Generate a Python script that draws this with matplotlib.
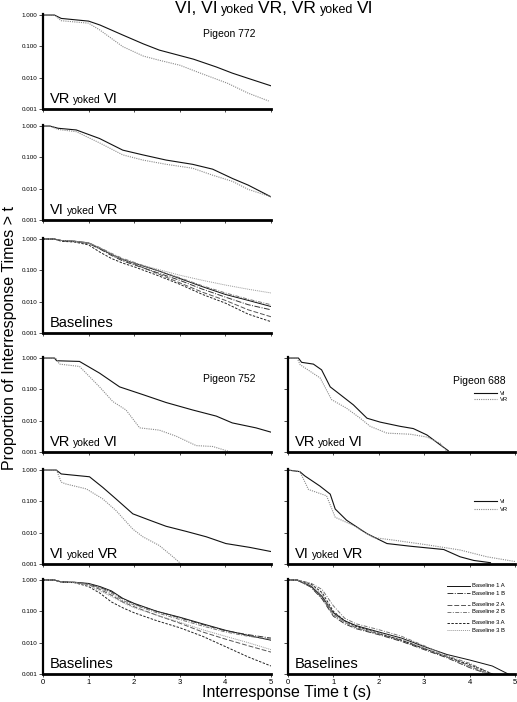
import numpy as np
import matplotlib
matplotlib.use("Agg")
import matplotlib.pyplot as plt
from matplotlib.transforms import offset_copy
from matplotlib.ticker import FixedLocator, FixedFormatter

plt.rcParams['font.family'] = ['Liberation Sans', 'DejaVu Sans']

# ---------------- data ----------------
# Pigeon 772, VR yoked VI
T772_VRVI_VI = [0, 0.25, 0.4, 1.0, 1.25, 1.75, 2.2, 2.55, 3.3, 3.8, 4.15, 4.5, 5.0]
P772_VRVI_VI = [1.0, 1.0, 0.78, 0.64, 0.48, 0.23, 0.12, 0.076, 0.039, 0.022, 0.014, 0.0095, 0.0055]
T772_VRVI_VR = [0, 0.25, 0.4, 1.0, 1.25, 1.75, 2.2, 2.55, 3.0, 3.45, 4.05, 4.5, 4.95]
P772_VRVI_VR = [1.0, 1.0, 0.66, 0.55, 0.33, 0.098, 0.049, 0.036, 0.025, 0.014, 0.0066, 0.0032, 0.0018]

# Pigeon 772, VI yoked VR
T772_VIVR_VI = [0, 0.15, 0.33, 0.73, 1.24, 1.75, 2.19, 2.7, 3.28, 3.72, 4.16, 4.5, 5.0]
P772_VIVR_VI = [1.0, 1.0, 0.85, 0.75, 0.4, 0.17, 0.12, 0.082, 0.06, 0.042, 0.021, 0.013, 0.0055]
T772_VIVR_VR = [0, 0.15, 0.33, 0.73, 1.24, 1.75, 2.19, 2.7, 3.28, 3.72, 4.16, 4.5, 5.0]
P772_VIVR_VR = [1.0, 1.0, 0.78, 0.66, 0.29, 0.12, 0.082, 0.06, 0.045, 0.027, 0.017, 0.0095, 0.0055]

# Baseline time grid (772 and 752)
T_BASE = [0, 0.25, 0.4, 0.7, 1.0, 1.25, 1.5, 1.75, 2.0, 2.5, 3.0, 3.5, 4.0, 4.5, 5.0]
B772_1A = [1, 1, 0.9, 0.85, 0.75, 0.5, 0.32, 0.22, 0.17, 0.1, 0.055, 0.03, 0.017, 0.011, 0.007]
B772_1B = [1, 1, 0.88, 0.83, 0.72, 0.48, 0.3, 0.2, 0.15, 0.085, 0.048, 0.025, 0.014, 0.008, 0.0055]
B772_2A = [1, 1, 0.9, 0.85, 0.75, 0.52, 0.33, 0.22, 0.16, 0.08, 0.04, 0.02, 0.011, 0.0055, 0.0033]
B772_2B = [1, 1, 0.9, 0.85, 0.76, 0.53, 0.35, 0.24, 0.18, 0.1, 0.058, 0.032, 0.019, 0.012, 0.008]
B772_3A = [1, 1, 0.85, 0.8, 0.65, 0.38, 0.24, 0.17, 0.13, 0.07, 0.036, 0.017, 0.009, 0.004, 0.0023]
B772_3B = [1, 1, 0.9, 0.85, 0.75, 0.52, 0.32, 0.22, 0.17, 0.11, 0.07, 0.048, 0.034, 0.025, 0.019]

# Pigeon 752, VR yoked VI
T752_VRVI_VI = [0, 0.25, 0.3, 0.8, 1.24, 1.68, 2.19, 2.7, 3.28, 3.8, 4.15, 4.67, 5.0]
P752_VRVI_VI = [1.0, 1.0, 0.82, 0.78, 0.33, 0.12, 0.068, 0.038, 0.022, 0.014, 0.0085, 0.0059, 0.0043]
T752_VRVI_VR = [0, 0.28, 0.36, 0.8, 1.24, 1.53, 1.82, 2.12, 2.55, 2.92, 3.36, 3.72, 4.12]
P752_VRVI_VR = [1.0, 1.0, 0.64, 0.54, 0.12, 0.041, 0.022, 0.0059, 0.005, 0.0032, 0.0016, 0.0015, 0.001]

# Pigeon 752, VI yoked VR
T752_VIVR_VI = [0, 0.29, 0.4, 1.02, 1.31, 1.6, 1.97, 2.34, 2.7, 3.14, 3.58, 4.01, 4.53, 5.0]
P752_VIVR_VI = [1.0, 1.0, 0.75, 0.61, 0.28, 0.12, 0.04, 0.025, 0.016, 0.011, 0.0074, 0.0045, 0.0034, 0.0025]
T752_VIVR_VR = [0, 0.3, 0.33, 0.4, 0.5, 0.95, 1.31, 1.6, 1.97, 2.19, 2.55, 2.85, 3.03]
P752_VIVR_VR = [1.0, 1.0, 0.75, 0.41, 0.36, 0.25, 0.12, 0.051, 0.013, 0.0074, 0.0039, 0.0017, 0.001]

B752_1A = [1, 1, 0.87, 0.85, 0.78, 0.62, 0.45, 0.26, 0.18, 0.1, 0.065, 0.04, 0.025, 0.017, 0.012]
B752_1B = [1, 1, 0.87, 0.84, 0.75, 0.58, 0.42, 0.25, 0.17, 0.1, 0.062, 0.038, 0.024, 0.018, 0.014]
B752_2A = [1, 1, 0.87, 0.84, 0.72, 0.5, 0.33, 0.2, 0.14, 0.075, 0.042, 0.022, 0.013, 0.008, 0.005]
B752_2B = [1, 1, 0.87, 0.84, 0.74, 0.55, 0.38, 0.22, 0.16, 0.09, 0.055, 0.034, 0.022, 0.016, 0.013]
B752_3A = [1, 1, 0.87, 0.82, 0.62, 0.38, 0.2, 0.13, 0.09, 0.05, 0.03, 0.016, 0.0075, 0.0035, 0.0018]
B752_3B = [1, 1, 0.87, 0.83, 0.68, 0.45, 0.3, 0.19, 0.13, 0.075, 0.045, 0.026, 0.016, 0.01, 0.006]

# Pigeon 688, VR yoked VI
T688_VRVI_VI = [0, 0.23, 0.3, 0.56, 0.74, 0.93, 1.15, 1.44, 1.74, 2.03, 2.47, 2.76, 3.06, 3.35, 3.53]
P688_VRVI_VI = [1.0, 1.0, 0.73, 0.64, 0.42, 0.12, 0.068, 0.032, 0.012, 0.009, 0.0066, 0.0056, 0.0035, 0.0017, 0.0011]
T688_VRVI_VR = [0, 0.2, 0.27, 0.71, 0.96, 1.29, 1.59, 1.81, 2.18, 2.69, 3.06, 3.35, 3.49]
P688_VRVI_VR = [1.0, 1.0, 0.61, 0.23, 0.047, 0.025, 0.012, 0.0066, 0.004, 0.0037, 0.003, 0.0019, 0.0011]

# Pigeon 688, VI yoked VR
T688_VIVR_VI = [0, 0.26, 0.37, 0.7, 0.93, 1.04, 1.29, 1.74, 2.18, 2.69, 3.43, 3.79, 4.09, 4.46]
P688_VIVR_VI = [1.0, 0.89, 0.65, 0.31, 0.17, 0.057, 0.025, 0.0093, 0.0045, 0.0037, 0.0029, 0.0017, 0.0013, 0.0011]
T688_VIVR_VR = [0, 0.26, 0.45, 0.85, 1.04, 1.44, 1.88, 2.32, 3.06, 3.79, 4.38, 5.0]
P688_VIVR_VR = [1.0, 0.9, 0.24, 0.15, 0.031, 0.017, 0.007, 0.0058, 0.0041, 0.0028, 0.0017, 0.0012]

# Pigeon 688 baselines
T688_BASE = [0, 0.2, 0.5, 0.75, 1.0, 1.25, 1.5, 2.0, 2.5, 3.0, 3.5, 4.0, 4.5, 4.85]
B688_1A = [1, 1, 0.65, 0.3, 0.09, 0.05, 0.035, 0.022, 0.014, 0.0075, 0.0042, 0.0028, 0.0018, 0.001]
B688_1B = [1, 1, 0.6, 0.25, 0.07, 0.04, 0.028, 0.018, 0.011, 0.006, 0.0033, 0.0016, 0.0009, 0.0006]
B688_2A = [1, 1, 0.62, 0.27, 0.08, 0.045, 0.03, 0.019, 0.012, 0.0065, 0.0036, 0.0018, 0.0009, 0.0006]
B688_2B = [1, 1, 0.8, 0.5, 0.15, 0.06, 0.04, 0.026, 0.016, 0.008, 0.0038, 0.0022, 0.001, 0.0007]
B688_3A = [1, 1, 0.75, 0.4, 0.1, 0.05, 0.033, 0.02, 0.012, 0.0065, 0.0035, 0.002, 0.001, 0.0007]
B688_3B = [1, 1, 0.7, 0.35, 0.08, 0.045, 0.03, 0.02, 0.013, 0.007, 0.0035, 0.0017, 0.0009, 0.0006]

BASE_LABELS = ["Baseline 1 A", "Baseline 1 B", "Baseline 2 A", "Baseline 2 B", "Baseline 3 A", "Baseline 3 B"]
Y_TICKS = [0.001, 0.01, 0.1, 1.0]
Y_TICKLABELS = ["0.001", "0.010", "0.100", "1.000"]
X_TICKS = [0, 1, 2, 3, 4, 5]

# ---------------- styles ----------------
VI_STYLE = dict(color="#111111", lw=0.8, ls="-")
VR_STYLE = dict(color="#8a8a8a", lw=0.8, ls=(0, (1, 1)))
BASE_STYLES = [
    dict(color="#111111", lw=0.7, ls="-"),
    dict(color="#333333", lw=0.7, ls=(0, (6, 1.5, 1, 1.5))),
    dict(color="#555555", lw=0.7, ls=(0, (5, 2))),
    dict(color="#777777", lw=0.7, ls=(0, (4, 1.5, 1, 1.5))),
    dict(color="#222222", lw=0.7, ls=(0, (2.5, 1.5))),
    dict(color="#999999", lw=0.7, ls=(0, (1, 1))),
]

W, H = 517, 702
fig = plt.figure(figsize=(W / 100, H / 100), dpi=100)

YMAX = 1.08
col_x = [(43, 271), (288, 515)]
row_bottom = [109, 220, 333, 452, 564, 674]
row_h = 95


def make_ax(col, row, ylabels=True, xlabels=False):
    x0, x1 = col_x[col]
    yb = row_bottom[row]
    ax = fig.add_axes([x0 / W, 1 - yb / H, (x1 - x0) / W, row_h / H])
    ax.set_yscale('log')
    ax.set_ylim(0.001, YMAX)
    ax.set_xlim(0, 5)
    for s in ['top', 'right']:
        ax.spines[s].set_visible(False)
    ax.spines['left'].set_linewidth(1.6)
    ax.spines['bottom'].set_linewidth(2.0)
    ax.yaxis.set_major_locator(FixedLocator(Y_TICKS))
    ax.yaxis.set_minor_locator(FixedLocator([]))
    if ylabels:
        ax.yaxis.set_major_formatter(FixedFormatter(Y_TICKLABELS))
    else:
        ax.set_yticklabels([])
    ax.set_xticks(X_TICKS)
    if xlabels:
        ax.set_xticklabels([str(v) for v in X_TICKS])
    else:
        ax.set_xticklabels([])
    ax.tick_params(axis='y', length=3, width=0.5, labelsize=4.5, pad=1)
    ax.tick_params(axis='x', length=2, width=0.5, labelsize=5.5, pad=1.5)
    ax.patch.set_alpha(0)
    return ax


def mixed_text(x, y, pieces, transform, ha='left', gap_px=2.0):
    texts = [fig.text(x, y, s, fontsize=fs, va='baseline', ha='left',
                      transform=transform) for s, fs in pieces]
    fig.canvas.draw()
    r = fig.canvas.get_renderer()
    widths = [t.get_window_extent(r).width for t in texts]
    total = sum(widths) + gap_px * (len(texts) - 1)
    cum = -total / 2 if ha == 'center' else 0
    for t, w in zip(texts, widths):
        t.set_transform(offset_copy(transform, fig=fig, x=cum, y=0, units='dots'))
        cum += w + gap_px


def panel_label(ax, first, second):
    mixed_text(0.03, 0.06, [(first, 10.5), ("yoked", 7.5), (second, 10.5)],
               ax.transAxes, gap_px=3.2)


def pair_panel(ax, tvi, pvi, tvr, pvr):
    ax.plot(tvi, pvi, **VI_STYLE)
    ax.plot(tvr, pvr, **VR_STYLE)


def vi_vr_legend(ax, y1, y2):
    for y, st, lab in [(y1, VI_STYLE, "VI"), (y2, VR_STYLE, "VR")]:
        ax.plot([0.82, 0.92], [y, y], transform=ax.transAxes, clip_on=False, **st)
        ax.text(0.935, y, lab, transform=ax.transAxes, fontsize=4.2, va='center', ha='left')


# Row 1: 772 VR yoked VI
ax1 = make_ax(0, 0)
pair_panel(ax1, T772_VRVI_VI, P772_VRVI_VI, T772_VRVI_VR, P772_VRVI_VR)
ax1.text(0.93, 0.76, "Pigeon 772", transform=ax1.transAxes, fontsize=7.5, ha='right')
panel_label(ax1, "VR", "VI")

# Row 2: 772 VI yoked VR
ax2 = make_ax(0, 1)
pair_panel(ax2, T772_VIVR_VI, P772_VIVR_VI, T772_VIVR_VR, P772_VIVR_VR)
panel_label(ax2, "VI", "VR")

# Row 3: 772 Baselines
ax3 = make_ax(0, 2)
for vals, st in zip([B772_1A, B772_1B, B772_2A, B772_2B, B772_3A, B772_3B], BASE_STYLES):
    ax3.plot(T_BASE, vals, **st)
ax3.text(0.03, 0.06, "Baselines", transform=ax3.transAxes, fontsize=10.5, va='baseline')

# Row 4: 752 / 688 VR yoked VI
ax4 = make_ax(0, 3)
pair_panel(ax4, T752_VRVI_VI, P752_VRVI_VI, T752_VRVI_VR, P752_VRVI_VR)
ax4.text(0.93, 0.74, "Pigeon 752", transform=ax4.transAxes, fontsize=7.5, ha='right')
panel_label(ax4, "VR", "VI")

ax4r = make_ax(1, 3, ylabels=False)
pair_panel(ax4r, T688_VRVI_VI, P688_VRVI_VI, T688_VRVI_VR, P688_VRVI_VR)
ax4r.text(0.96, 0.72, "Pigeon 688", transform=ax4r.transAxes, fontsize=7.5, ha='right')
vi_vr_legend(ax4r, 0.62, 0.555)
panel_label(ax4r, "VR", "VI")

# Row 5: VI yoked VR
ax5 = make_ax(0, 4)
pair_panel(ax5, T752_VIVR_VI, P752_VIVR_VI, T752_VIVR_VR, P752_VIVR_VR)
panel_label(ax5, "VI", "VR")

ax5r = make_ax(1, 4, ylabels=False)
pair_panel(ax5r, T688_VIVR_VI, P688_VIVR_VI, T688_VIVR_VR, P688_VIVR_VR)
vi_vr_legend(ax5r, 0.66, 0.575)
panel_label(ax5r, "VI", "VR")

# Row 6: Baselines
ax6 = make_ax(0, 5, xlabels=True)
for vals, st in zip([B752_1A, B752_1B, B752_2A, B752_2B, B752_3A, B752_3B], BASE_STYLES):
    ax6.plot(T_BASE, vals, **st)
ax6.text(0.03, 0.06, "Baselines", transform=ax6.transAxes, fontsize=10.5, va='baseline')

ax6r = make_ax(1, 5, ylabels=False, xlabels=True)
for vals, st in zip([B688_1A, B688_1B, B688_2A, B688_2B, B688_3A, B688_3B], BASE_STYLES):
    ax6r.plot(T688_BASE, vals, **st)
ax6r.text(0.03, 0.06, "Baselines", transform=ax6r.transAxes, fontsize=10.5, va='baseline')
leg_y = [0.93, 0.85, 0.73, 0.655, 0.54, 0.46]
for y, st, lab in zip(leg_y, BASE_STYLES, BASE_LABELS):
    ax6r.plot([0.70, 0.80], [y, y], transform=ax6r.transAxes, **st)
    ax6r.text(0.81, y, lab, transform=ax6r.transAxes, fontsize=4.2, va='center', ha='left')

# Figure texts
mixed_text(274 / W, 1 - 13 / H,
           [("VI, VI", 12.5), ("yoked", 9), ("VR, VR", 12.5), ("yoked", 9), ("VI", 12.5)],
           fig.transFigure, ha='center', gap_px=3.8)
fig.text(287 / W, 1 - 697 / H, "Interresponse Time t (s)", fontsize=11.5,
         ha='center', va='baseline')
fig.text(10 / W, 1 - 338 / H, "Proportion of Interresponse Times > t", fontsize=11.5,
         rotation=90, ha='center', va='center')

fig.savefig("out.png", dpi=100)
